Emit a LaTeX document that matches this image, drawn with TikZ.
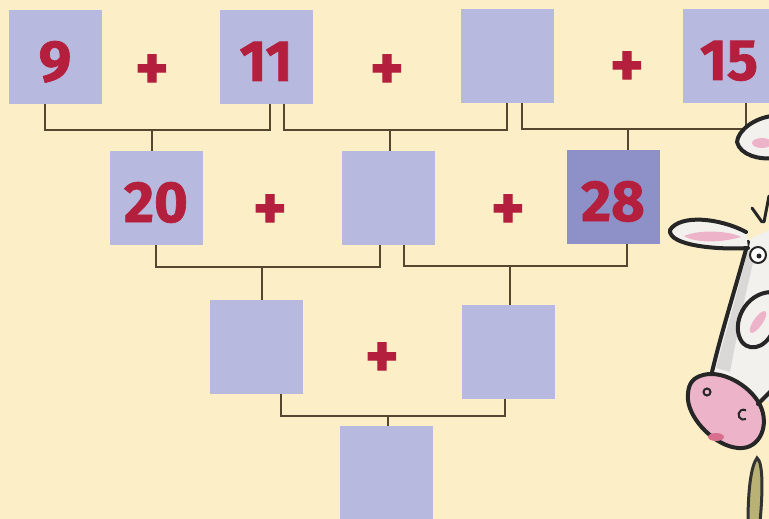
\documentclass[tikz,border=0pt]{standalone}
\usepackage{fontspec}
\setmainfont{Fira Sans}[BoldFeatures={FakeBold=1.2}]
\usepackage{tikz}
\definecolor{paper}{HTML}{FCEFC8}
\definecolor{boxblue}{HTML}{B7B9DE}
\definecolor{boxdark}{HTML}{8E90C8}
\definecolor{numred}{HTML}{B51F3E}
\definecolor{linebrown}{HTML}{54462F}
\definecolor{cowwhite}{HTML}{F3F1EE}
\definecolor{cowgrey}{HTML}{D9D8D6}
\definecolor{snoutpink}{HTML}{EDB3C9}
\definecolor{lippink}{HTML}{D96F8E}
\definecolor{grass}{HTML}{B9B274}
\tikzset{
  box/.style={fill=boxblue, minimum width=93pt, minimum height=94pt, inner sep=0pt,
    text height=48pt, text depth=0pt,
    font=\fontsize{58}{58}\selectfont\bfseries, text=numred},
  plus/.style={font=\fontsize{64}{64}\selectfont\bfseries, text=numred, inner sep=0pt},
  link/.style={draw=linebrown, line width=2.4pt},
  outline/.style={draw=black!85, line width=4pt, line join=round, line cap=round}
}

\begin{document}
\begin{tikzpicture}[x=1pt,y=-1pt]
  \clip (0,0) rectangle (769,519);
  \fill[paper] (0,0) rectangle (769,519);

  \node[box] (a1) at (55,57) {9};
  \node[box] (a2) at (266,57) {11};
  \node[box] (a3) at (507,56) {};
  \node[box] (a4) at (729,56) {15};
  \node[plus] (p1) at (152,72) {+};
  \node[plus] (p2) at (387,72) {+};
  \node[plus] (p3) at (627,69) {+};

  \node[box] (b1) at (156,198) {20};
  \node[box] (b2) at (388,198) {};
  \node[box, fill=boxdark] (b3) at (613,197) {28};
  \node[plus] (p4) at (270,212) {+};
  \node[plus] (p5) at (508,212) {+};

  \node[box] (c1) at (256,347) {};
  \node[box] (c2) at (508,352) {};
  \node[plus] (p6) at (382,360) {+};

  \node[box] (d1) at (386,473) {};

  \draw[link] ([xshift=-10pt]a1.south) -- ++(0,26) -| ([xshift=4pt]a2.south);
  \draw[link] ([xshift=-4pt]b1.north) -- ++(0,-21);
  \draw[link] ([xshift=18pt]a2.south) -- ++(0,26) -| (a3.south);
  \draw[link] ([xshift=2pt]b2.north) -- ++(0,-21);
  \draw[link] ([xshift=15pt]a3.south) -- ++(0,26) -| ([xshift=17pt]a4.south);
  \draw[link] ([xshift=15pt]b3.north) -- ++(0,-21);

  \draw[link] (b1.south) -- ++(0,22) -| ([xshift=-8pt]b2.south);
  \draw[link] ([xshift=6pt]c1.north) -- ++(0,-33);
  \draw[link] ([xshift=16pt]b2.south) -- ++(0,21) -| ([xshift=14pt]b3.south);
  \draw[link] ([xshift=2pt]c2.north) -- ++(0,-39);

  \draw[link] ([xshift=25pt]c1.south) -- ++(0,22) -| ([xshift=-3pt]c2.south);
  \draw[link] ([xshift=2pt]d1.north) -- ++(0,-10);

  \fill[cowwhite] (748,240) .. controls (735,290) and (720,330) .. (708,375) -- (769,402) -- (769,230) -- cycle;
  \fill[cowgrey] (748,250) .. controls (738,290) and (728,325) .. (716,368) -- (730,372) .. controls (738,330) and (745,295) .. (755,255) -- cycle;
  \draw[outline] (748,242) .. controls (735,290) and (722,330) .. (712,372);
  \filldraw[outline, fill=cowwhite] (772,292) .. controls (745,292) and (730,325) .. (742,342) .. controls (752,354) and (770,345) .. (775,325);
  \fill[snoutpink, rotate around={55:(758,322)}] (758,322) ellipse (13 and 4.5);
  \filldraw[outline, fill=snoutpink] (700,376) .. controls (720,368) and (750,385) .. (760,405) .. controls (770,425) and (760,450) .. (738,448) .. controls (715,446) and (690,420) .. (688,400) .. controls (687,385) and (692,379) .. (700,376) -- cycle;
  \draw[outline] (758,404) -- (772,390);
  \draw[black!85, line width=2pt] (707,392) circle (3.5);
  \draw[black!85, line width=2pt] (746,419) arc (60:300:5);
  \fill[lippink] (716,437) ellipse (8 and 4);

  \filldraw[outline, fill=cowwhite] (746,232) .. controls (720,218) and (680,214) .. (670,230) .. controls (668,246) and (720,250) .. (748,248);
  \fill[snoutpink] (684,236) .. controls (700,229) and (730,231) .. (741,237) .. controls (720,243) and (695,243) .. (684,236) -- cycle;
  \filldraw[outline, fill=cowwhite] (772,116) .. controls (755,118) and (738,130) .. (737,142) .. controls (740,155) and (760,160) .. (772,158);
  \fill[snoutpink] (762,143) ellipse (10 and 5);
  \filldraw[draw=black!85, line width=2pt, fill=white] (758,255) circle (8);
  \fill[black!85] (759,256) circle (2.5);
  \draw[outline, line width=3pt] (764,222) -- (769,196);
  \draw[outline, line width=3pt] (762,222) -- (752,208);

  \filldraw[draw=black!80, line width=3pt, fill=grass] (748,522) .. controls (748,490) and (751,466) .. (757,458) .. controls (763,462) and (763,490) .. (760,522);
\end{tikzpicture}
\end{document}
